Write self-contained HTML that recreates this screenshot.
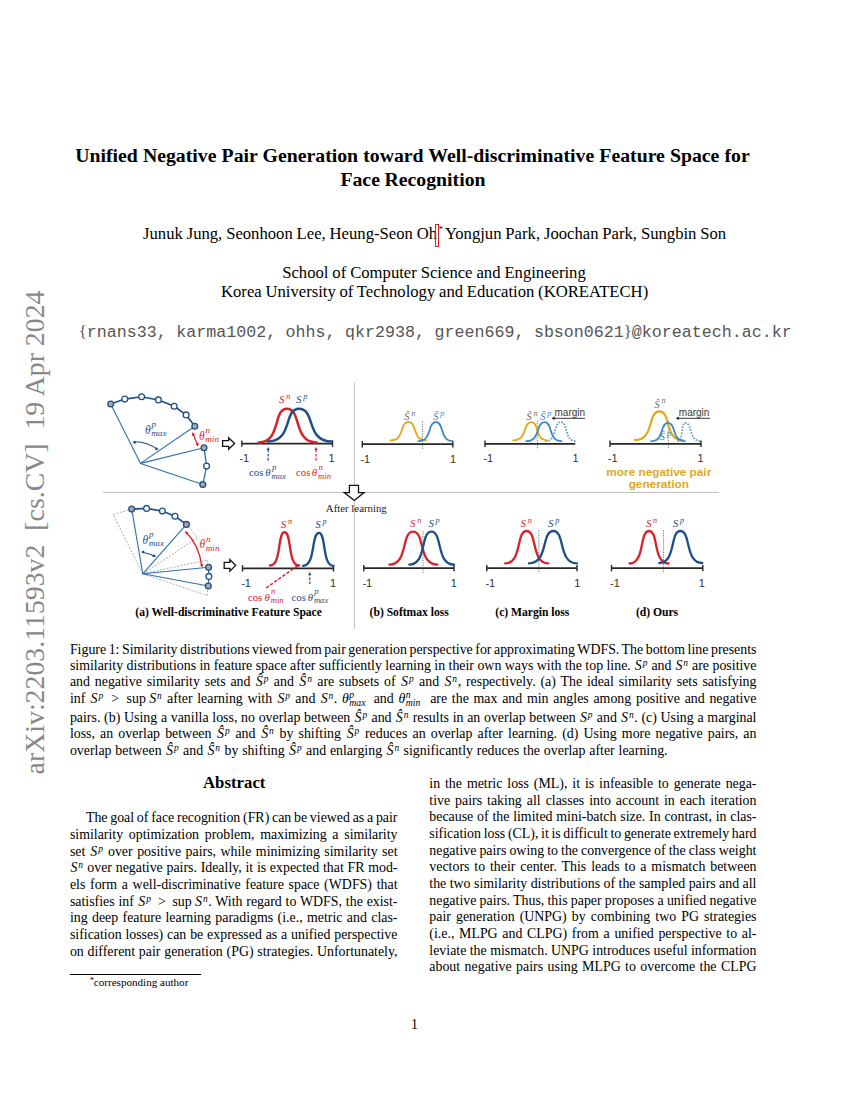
<!DOCTYPE html><html><head><meta charset="utf-8"><style>
html,body{margin:0;padding:0;background:#fff;}
body{width:850px;height:1100px;position:relative;overflow:hidden;font-family:"Liberation Serif", serif;color:#000;}
.l{position:absolute;white-space:nowrap;line-height:1;}
.sp{font-size:0.68em;font-style:italic;position:relative;top:-0.45em;margin-left:0.1em;margin-right:0.06em;}
.cs{font-style:italic;margin-left:0.04em;}
.ss{display:inline-block;position:relative;width:1.45em;height:0;vertical-align:baseline;}
.sp2{position:absolute;left:0.05em;top:-1.34em;font-size:0.7em;font-style:italic;line-height:1;}
.sb2{position:absolute;left:0.05em;top:-0.48em;font-size:0.7em;font-style:italic;line-height:1;}
.up{font-style:normal;}
</style></head><body>

<div class="l" style="left:0;top:0;font-size:27.8px;color:#888;transform-origin:0 0;transform:translate(44.1px,774.4px) rotate(-90deg);"><div style="position:absolute;left:0;top:-23.28px;">arXiv:2203.11593v2&nbsp; [cs.CV]&nbsp; 19 Apr 2024</div></div>
<div class="l" style="left:75.20px;top:146px;font-size:19.8px;word-spacing:0.119px;font-weight:bold;">Unified Negative Pair Generation toward Well-discriminative Feature Space for</div>
<div class="l" style="left:340.40px;top:170px;font-size:19.8px;word-spacing:-0.378px;font-weight:bold;">Face Recognition</div>
<div class="l" style="left:143.00px;top:226px;font-size:16.67px;word-spacing:-0.311px;">Junuk Jung, Seonhoon Lee, Heung-Seon Oh<span style="font-size:0.55em;position:relative;top:-0.75em;left:0.15em">*</span> Yongjun Park, Joochan Park, Sungbin Son</div>
<div style="position:absolute;left:435.2px;top:224px;width:2.2px;height:21px;border:1.5px solid #d42020;"></div>
<div class="l" style="left:282.20px;top:265px;font-size:16.67px;word-spacing:-0.246px;">School of Computer Science and Engineering</div>
<div class="l" style="left:221.00px;top:284px;font-size:16.67px;word-spacing:-0.407px;">Korea University of Technology and Education (KOREATECH)</div>
<div class="l" style="left:78.80px;top:324px;font-size:16.67px;font-family:'Liberation Mono', monospace;word-spacing:-0.541px;color:#555;"><span style="font-family:'Liberation Serif'">{</span>rnans33, karma1002, ohhs, qkr2938, green669, sbson0621<span style="font-family:'Liberation Serif'">}</span>@koreatech.ac.kr</div>
<div class="l" style="left:69.90px;top:643px;font-size:13.9px;word-spacing:-0.950px;">Figure 1: Similarity distributions viewed from pair generation perspective for approximating WDFS. The bottom line presents</div>
<div class="l" style="left:69.90px;top:659px;font-size:13.9px;word-spacing:-0.032px;">similarity distributions in feature space after sufficiently learning in their own ways with the top line. <i class="cs">S</i><span class="sp">p</span> and <i class="cs">S</i><span class="sp">n</span> are positive</div>
<div class="l" style="left:69.90px;top:675px;font-size:13.9px;word-spacing:1.360px;">and negative similarity sets and <i class="cs">Ŝ</i><span class="sp">p</span> and <i class="cs">Ŝ</i><span class="sp">n</span> are subsets of <i class="cs">S</i><span class="sp">p</span> and <i class="cs">S</i><span class="sp">n</span>, respectively. (a) The ideal similarity sets satisfying</div>
<div class="l" style="left:69.90px;top:692px;font-size:13.9px;word-spacing:1.241px;">inf <i class="cs">S</i><span class="sp">p</span> &thinsp;&gt;&thinsp; sup&thinsp;<i class="cs">S</i><span class="sp">n</span> after learning with <i class="cs">S</i><span class="sp">p</span> and <i class="cs">S</i><span class="sp">n</span>. <i>θ</i><span class="ss"><span class="sp2">p</span><span class="sb2">max</span></span> and <i>θ</i><span class="ss"><span class="sp2">n</span><span class="sb2">min</span></span> are the max and min angles among positive and negative</div>
<div class="l" style="left:69.90px;top:711px;font-size:13.9px;word-spacing:0.239px;">pairs. (b) Using a vanilla loss, no overlap between <i class="cs">Ŝ</i><span class="sp">p</span> and <i class="cs">Ŝ</i><span class="sp">n</span> results in an overlap between <i class="cs">S</i><span class="sp">p</span> and <i class="cs">S</i><span class="sp">n</span>. (c) Using a marginal</div>
<div class="l" style="left:69.90px;top:727px;font-size:13.9px;word-spacing:1.663px;">loss, an overlap between <i class="cs">Ŝ</i><span class="sp">p</span> and <i class="cs">Ŝ</i><span class="sp">n</span> by shifting <i class="cs">Ŝ</i><span class="sp">p</span> reduces an overlap after learning. (d) Using more negative pairs, an</div>
<div class="l" style="left:69.90px;top:744px;font-size:13.9px;word-spacing:0.358px;">overlap between <i class="cs">Ŝ</i><span class="sp">p</span> and <i class="cs">Ŝ</i><span class="sp">n</span> by shifting <i class="cs">Ŝ</i><span class="sp">p</span> and enlarging <i class="cs">Ŝ</i><span class="sp">n</span> significantly reduces the overlap after learning.</div>
<div class="l" style="left:203.00px;top:775px;font-size:16.8px;font-weight:bold;">Abstract</div>
<div class="l" style="left:85.90px;top:811px;font-size:13.9px;word-spacing:-0.741px;">The goal of face recognition (FR) can be viewed as a pair</div>
<div class="l" style="left:69.90px;top:828px;font-size:13.9px;word-spacing:2.248px;">similarity optimization problem, maximizing a similarity</div>
<div class="l" style="left:69.90px;top:845px;font-size:13.9px;word-spacing:0.993px;">set <i class="cs">S</i><span class="sp">p</span> over positive pairs, while minimizing similarity set</div>
<div class="l" style="left:69.90px;top:861px;font-size:13.9px;word-spacing:0.232px;"><i class="cs">S</i><span class="sp">n</span> over negative pairs. Ideally, it is expected that FR mod-</div>
<div class="l" style="left:69.90px;top:878px;font-size:13.9px;word-spacing:1.231px;">els form a well-discriminative feature space (WDFS) that</div>
<div class="l" style="left:69.90px;top:895px;font-size:13.9px;word-spacing:0.340px;">satisfies inf <i class="cs">S</i><span class="sp">p</span> &thinsp;&gt;&thinsp; sup&thinsp;<i class="cs">S</i><span class="sp">n</span>. With regard to WDFS, the exist-</div>
<div class="l" style="left:69.90px;top:911px;font-size:13.9px;word-spacing:0.886px;">ing deep feature learning paradigms (i.e., metric and clas-</div>
<div class="l" style="left:69.90px;top:928px;font-size:13.9px;word-spacing:0.352px;">sification losses) can be expressed as a unified perspective</div>
<div class="l" style="left:69.90px;top:945px;font-size:13.9px;word-spacing:0.277px;">on different pair generation (PG) strategies. Unfortunately,</div>
<div class="l" style="left:429.30px;top:777px;font-size:13.9px;word-spacing:1.437px;">in the metric loss (ML), it is infeasible to generate nega-</div>
<div class="l" style="left:429.30px;top:794px;font-size:13.9px;word-spacing:1.512px;">tive pairs taking all classes into account in each iteration</div>
<div class="l" style="left:429.30px;top:810px;font-size:13.9px;word-spacing:0.312px;">because of the limited mini-batch size. In contrast, in clas-</div>
<div class="l" style="left:429.30px;top:827px;font-size:13.9px;word-spacing:-0.820px;">sification loss (CL), it is difficult to generate extremely hard</div>
<div class="l" style="left:429.30px;top:844px;font-size:13.9px;word-spacing:-0.433px;">negative pairs owing to the convergence of the class weight</div>
<div class="l" style="left:429.30px;top:860px;font-size:13.9px;word-spacing:1.411px;">vectors to their center. This leads to a mismatch between</div>
<div class="l" style="left:429.30px;top:877px;font-size:13.9px;word-spacing:-0.039px;">the two similarity distributions of the sampled pairs and all</div>
<div class="l" style="left:429.30px;top:894px;font-size:13.9px;word-spacing:-0.246px;">negative pairs. Thus, this paper proposes a unified negative</div>
<div class="l" style="left:429.30px;top:910px;font-size:13.9px;word-spacing:1.607px;">pair generation (UNPG) by combining two PG strategies</div>
<div class="l" style="left:429.30px;top:927px;font-size:13.9px;word-spacing:1.208px;">(i.e., MLPG and CLPG) from a unified perspective to al-</div>
<div class="l" style="left:429.30px;top:944px;font-size:13.9px;word-spacing:-0.053px;">leviate the mismatch. UNPG introduces useful information</div>
<div class="l" style="left:429.30px;top:960px;font-size:13.9px;word-spacing:0.970px;">about negative pairs using MLPG to overcome the CLPG</div>
<div style="position:absolute;left:69.9px;top:974px;width:131.3px;height:1px;background:#000;"></div>
<div class="l" style="left:89.90px;top:977px;font-size:11.1px;"><span style="font-size:0.7em;position:relative;top:-0.45em">*</span>corresponding author</div>
<div class="l" style="left:411.00px;top:1018px;font-size:13.9px;">1</div>
<svg width="850" height="1100" style="position:absolute;left:0;top:0;" viewBox="0 0 850 1100">
<line x1="103" y1="492.4" x2="719" y2="492.4" stroke="#bdbdbd" stroke-width="1"/>
<line x1="354.4" y1="382.4" x2="354.4" y2="628.9" stroke="#bdbdbd" stroke-width="1"/>
<line x1="140.5" y1="463.4" x2="110.7" y2="404.0" stroke="#2e6fae" stroke-width="1.1"/>
<line x1="140.5" y1="463.4" x2="194.8" y2="426.2" stroke="#2e6fae" stroke-width="1.1"/>
<line x1="140.5" y1="463.4" x2="204" y2="447.8" stroke="#2e6fae" stroke-width="1.1"/>
<line x1="140.5" y1="463.4" x2="202.8" y2="484.5" stroke="#2e6fae" stroke-width="1.1"/>
<polyline points="110.7,404.0 124.8,399.1 141.6,396.8 158.4,399.9 174.2,406.3 186.1,414.9 194.8,426.2" fill="none" stroke="#1f4f88" stroke-width="1.6"/>
<polyline points="204,447.8 206.6,466.1 202.8,484.5" fill="none" stroke="#2e6fae" stroke-width="1.3"/>
<circle cx="110.7" cy="404.0" r="2.9" fill="#a9a9a9" stroke="#1f4f88" stroke-width="1.3"/>
<circle cx="124.8" cy="399.1" r="2.9" fill="#fff" stroke="#1f4f88" stroke-width="1.3"/>
<circle cx="141.6" cy="396.8" r="2.9" fill="#fff" stroke="#1f4f88" stroke-width="1.3"/>
<circle cx="158.4" cy="399.9" r="2.9" fill="#fff" stroke="#1f4f88" stroke-width="1.3"/>
<circle cx="174.2" cy="406.3" r="2.9" fill="#fff" stroke="#1f4f88" stroke-width="1.3"/>
<circle cx="186.1" cy="414.9" r="2.9" fill="#fff" stroke="#1f4f88" stroke-width="1.3"/>
<circle cx="194.8" cy="426.2" r="2.9" fill="#a9a9a9" stroke="#1f4f88" stroke-width="1.3"/>
<circle cx="204" cy="447.8" r="2.9" fill="#a9a9a9" stroke="#1f4f88" stroke-width="1.3"/>
<circle cx="206.6" cy="466.1" r="2.9" fill="#fff" stroke="#1f4f88" stroke-width="1.3"/>
<circle cx="202.8" cy="484.5" r="2.9" fill="#a9a9a9" stroke="#1f4f88" stroke-width="1.3"/>
<path d="M133.5,441.8 Q146,441 157.5,449.5" fill="none" stroke="#1f4f88" stroke-width="1.1"/>
<polygon points="132.50,442.20 135.84,440.73 135.53,444.23" fill="#1f4f88"/>
<polygon points="158.30,450.30 154.72,449.59 156.98,446.89" fill="#1f4f88"/>
<path d="M192.8,433.5 L197.8,445.3" stroke="#d6232b" stroke-width="1.2"/>
<polygon points="192.30,432.30 195.17,434.56 191.93,435.93" fill="#d6232b"/>
<polygon points="198.30,446.50 195.43,444.24 198.67,442.87" fill="#d6232b"/>
<line x1="142.8" y1="573.8" x2="113" y2="514.5" stroke="#9a9a9a" stroke-width="0.8" stroke-dasharray="2,1.5"/>
<line x1="113" y1="514.5" x2="131.7" y2="509.1" stroke="#9a9a9a" stroke-width="0.8" stroke-dasharray="2,1.5"/>
<line x1="186.4" y1="524.4" x2="197.5" y2="538" stroke="#9a9a9a" stroke-width="0.8" stroke-dasharray="2,1.5"/>
<line x1="142.8" y1="573.8" x2="197.5" y2="538" stroke="#9a9a9a" stroke-width="0.8" stroke-dasharray="2,1.5"/>
<line x1="142.8" y1="573.8" x2="207" y2="560" stroke="#9a9a9a" stroke-width="0.8" stroke-dasharray="2,1.5"/>
<line x1="207" y1="560" x2="208.6" y2="567.2" stroke="#9a9a9a" stroke-width="0.8" stroke-dasharray="2,1.5"/>
<line x1="142.8" y1="573.8" x2="207" y2="595.5" stroke="#9a9a9a" stroke-width="0.8" stroke-dasharray="2,1.5"/>
<line x1="207" y1="595.5" x2="208.3" y2="586" stroke="#9a9a9a" stroke-width="0.8" stroke-dasharray="2,1.5"/>
<line x1="142.8" y1="573.8" x2="131.7" y2="509.1" stroke="#2e6fae" stroke-width="1.1"/>
<line x1="142.8" y1="573.8" x2="186.4" y2="524.4" stroke="#2e6fae" stroke-width="1.1"/>
<line x1="142.8" y1="573.8" x2="208.6" y2="567.2" stroke="#2e6fae" stroke-width="1.1"/>
<line x1="142.8" y1="573.8" x2="208.3" y2="586" stroke="#2e6fae" stroke-width="1.1"/>
<polyline points="131.7,509.1 146.6,508.4 162.4,511.1 175,516.3 186.4,524.4" fill="none" stroke="#1f4f88" stroke-width="1.6"/>
<polyline points="208.6,567.2 208.9,576.4 208.3,586" fill="none" stroke="#2e6fae" stroke-width="1.3"/>
<circle cx="131.7" cy="509.1" r="2.9" fill="#a9a9a9" stroke="#1f4f88" stroke-width="1.3"/>
<circle cx="146.6" cy="508.4" r="2.9" fill="#fff" stroke="#1f4f88" stroke-width="1.3"/>
<circle cx="162.4" cy="511.1" r="2.9" fill="#fff" stroke="#1f4f88" stroke-width="1.3"/>
<circle cx="175" cy="516.3" r="2.9" fill="#fff" stroke="#1f4f88" stroke-width="1.3"/>
<circle cx="186.4" cy="524.4" r="2.9" fill="#a9a9a9" stroke="#1f4f88" stroke-width="1.3"/>
<circle cx="208.6" cy="567.2" r="2.9" fill="#a9a9a9" stroke="#1f4f88" stroke-width="1.3"/>
<circle cx="208.9" cy="576.4" r="2.9" fill="#fff" stroke="#1f4f88" stroke-width="1.3"/>
<circle cx="208.3" cy="586" r="2.9" fill="#a9a9a9" stroke="#1f4f88" stroke-width="1.3"/>
<path d="M142,552.2 Q149,553 155,556.3" fill="none" stroke="#1f4f88" stroke-width="1.1"/>
<polygon points="141.00,552.10 144.20,550.34 144.20,553.86" fill="#1f4f88"/>
<polygon points="156.00,557.00 152.35,556.92 154.11,553.88" fill="#1f4f88"/>
<path d="M185.8,532 Q199,545 201.8,566" fill="none" stroke="#d6232b" stroke-width="1.3"/>
<polygon points="185.00,531.20 188.51,532.22 186.02,534.71" fill="#d6232b"/>
<polygon points="202.00,567.50 199.97,564.47 203.47,564.16" fill="#d6232b"/>
<polygon points="222.60,440.54 228.60,440.54 228.60,437.80 234.60,443.50 228.60,449.20 228.60,446.46 222.60,446.46" fill="#fff" stroke="#111" stroke-width="1.3" stroke-linejoin="miter"/>
<polygon points="224.20,562.36 229.90,562.36 229.90,559.60 235.60,565.35 229.90,571.10 229.90,568.34 224.20,568.34" fill="#fff" stroke="#111" stroke-width="1.3" stroke-linejoin="miter"/>
<polygon points="349.4,485.3 358.5,485.3 358.5,492.6 364,492.6 354.3,500.4 344.2,492.6 349.4,492.6" fill="#fff" stroke="#111" stroke-width="1.3"/>
<line x1="241.8" y1="443.6" x2="332.5" y2="443.6" stroke="#262626" stroke-width="1.7"/>
<line x1="241.8" y1="440.40000000000003" x2="241.8" y2="446.8" stroke="#262626" stroke-width="1.4"/>
<line x1="332.5" y1="440.40000000000003" x2="332.5" y2="446.8" stroke="#262626" stroke-width="1.4"/>
<path d="M258.60,442.40 C281.24,442.40 272.75,408.70 286.90,408.70 C301.80,408.70 292.86,442.40 316.70,442.40" fill="none" stroke="#d6232b" stroke-width="2.5" stroke-linecap="round"/>
<path d="M267.80,441.60 C292.84,441.60 283.45,408.70 299.10,408.70 C315.55,408.70 305.68,441.60 332.00,441.60" fill="none" stroke="#1f4f88" stroke-width="2.5" stroke-linecap="round"/>
<line x1="268.2" y1="460.7" x2="268.2" y2="450" stroke="#1f4f88" stroke-width="1.2" stroke-dasharray="2.6,1.6"/>
<polygon points="268.20,447.00 269.85,450.00 266.55,450.00" fill="#1f4f88"/>
<line x1="316" y1="460.7" x2="316" y2="450" stroke="#d6232b" stroke-width="1.2" stroke-dasharray="2.6,1.6"/>
<polygon points="316.00,447.00 317.65,450.00 314.35,450.00" fill="#d6232b"/>
<line x1="362.3" y1="444.2" x2="452.8" y2="444.2" stroke="#262626" stroke-width="1.7"/>
<line x1="362.3" y1="441.0" x2="362.3" y2="447.4" stroke="#262626" stroke-width="1.4"/>
<line x1="452.8" y1="441.0" x2="452.8" y2="447.4" stroke="#262626" stroke-width="1.4"/>
<line x1="422.5" y1="421.3" x2="422.5" y2="448.8" stroke="#555" stroke-width="0.8" stroke-dasharray="1.2,1.2"/>
<path d="M390.60,440.40 C404.92,440.40 399.55,422.00 408.50,422.00 C417.25,422.00 412.00,440.40 426.00,440.40" fill="none" stroke="#e0a91c" stroke-width="1.8" stroke-linecap="round"/>
<path d="M418.40,441.20 C432.48,441.20 427.20,422.00 436.00,422.00 C444.40,422.00 439.36,441.20 452.80,441.20" fill="none" stroke="#3a8ac6" stroke-width="1.8" stroke-linecap="round"/>
<line x1="485" y1="443.8" x2="575.2" y2="443.8" stroke="#262626" stroke-width="1.7"/>
<line x1="485" y1="440.6" x2="485" y2="447.0" stroke="#262626" stroke-width="1.4"/>
<line x1="537.4" y1="420.6" x2="537.4" y2="449.6" stroke="#555" stroke-width="0.8" stroke-dasharray="1.2,1.2"/>
<path d="M545.40,441.20 C557.64,441.20 553.05,422.10 560.70,422.10 C568.35,422.10 563.76,441.20 576.00,441.20" fill="none" stroke="#5b95c4" stroke-width="1.7" stroke-linecap="butt" stroke-dasharray="1.6,1.4"/>
<path d="M513.20,440.30 C527.92,440.30 522.40,422.10 531.60,422.10 C539.30,422.10 534.68,440.30 547.00,440.30" fill="none" stroke="#e0a91c" stroke-width="1.8" stroke-linecap="round"/>
<path d="M526.20,441.20 C540.92,441.20 535.40,422.10 544.60,422.10 C553.00,422.10 547.96,441.20 561.40,441.20" fill="none" stroke="#3a8ac6" stroke-width="1.8" stroke-linecap="round"/>
<line x1="585" y1="418.3" x2="554" y2="418.3" stroke="#222" stroke-width="0.9"/>
<polygon points="551.50,418.30 554.70,416.54 554.70,420.06" fill="#222"/>
<line x1="610" y1="443.8" x2="701" y2="443.8" stroke="#262626" stroke-width="1.7"/>
<line x1="610" y1="440.6" x2="610" y2="447.0" stroke="#262626" stroke-width="1.4"/>
<line x1="701" y1="440.6" x2="701" y2="447.0" stroke="#262626" stroke-width="1.4"/>
<line x1="668.4" y1="420.6" x2="668.4" y2="448.9" stroke="#555" stroke-width="0.8" stroke-dasharray="1.2,1.2"/>
<path d="M677.20,441.20 C683.36,441.20 681.05,422.90 684.90,422.90 C692.95,422.90 688.12,441.20 701.00,441.20" fill="none" stroke="#5b95c4" stroke-width="1.7" stroke-linecap="butt" stroke-dasharray="1.6,1.4"/>
<path d="M634.90,440.00 C654.66,440.00 647.25,411.40 659.60,411.40 C671.10,411.40 664.20,440.00 682.60,440.00" fill="none" stroke="#e0a91c" stroke-width="2.2" stroke-linecap="round"/>
<path d="M651.20,441.20 C664.64,441.20 659.60,422.90 668.00,422.90 C676.45,422.90 671.38,441.20 684.90,441.20" fill="none" stroke="#3a8ac6" stroke-width="1.8" stroke-linecap="round"/>
<line x1="710" y1="418.3" x2="678.2" y2="418.3" stroke="#222" stroke-width="0.9"/>
<polygon points="675.70,418.30 678.90,416.54 678.90,420.06" fill="#222"/>
<line x1="242.5" y1="568.4" x2="333.5" y2="568.4" stroke="#262626" stroke-width="1.7"/>
<line x1="242.5" y1="565.1999999999999" x2="242.5" y2="571.6" stroke="#262626" stroke-width="1.4"/>
<line x1="333.5" y1="565.1999999999999" x2="333.5" y2="571.6" stroke="#262626" stroke-width="1.4"/>
<path d="M270.00,565.50 C281.68,565.50 277.30,532.10 284.60,532.10 C291.85,532.10 287.50,565.50 299.10,565.50" fill="none" stroke="#d6232b" stroke-width="2.3" stroke-linecap="round"/>
<path d="M303.00,565.80 C315.80,565.80 311.00,532.90 319.00,532.90 C326.25,532.90 321.90,565.80 333.50,565.80" fill="none" stroke="#1f4f88" stroke-width="2.3" stroke-linecap="round"/>
<line x1="266.2" y1="588" x2="296" y2="566.8" stroke="#d6232b" stroke-width="1.5" stroke-dasharray="3.2,1.8"/>
<polygon points="298.60,565.00 296.99,568.28 294.97,565.39" fill="#d6232b"/>
<line x1="309.8" y1="584.1" x2="309.8" y2="575" stroke="#1f4f88" stroke-width="1.2" stroke-dasharray="2.6,1.6"/>
<polygon points="309.80,571.90 311.45,574.90 308.15,574.90" fill="#1f4f88"/>
<line x1="363.8" y1="568.1" x2="454" y2="568.1" stroke="#262626" stroke-width="1.7"/>
<line x1="363.8" y1="564.9" x2="363.8" y2="571.3000000000001" stroke="#262626" stroke-width="1.4"/>
<line x1="454" y1="564.9" x2="454" y2="571.3000000000001" stroke="#262626" stroke-width="1.4"/>
<line x1="423" y1="531" x2="423" y2="573" stroke="#555" stroke-width="0.8" stroke-dasharray="1.2,1.2"/>
<path d="M389.40,564.60 C408.28,564.60 401.20,531.70 413.00,531.70 C425.25,531.70 417.90,564.60 437.50,564.60" fill="none" stroke="#d6232b" stroke-width="2.3" stroke-linecap="round"/>
<path d="M409.20,564.60 C426.96,564.60 420.30,531.70 431.40,531.70 C442.70,531.70 435.92,564.60 454.00,564.60" fill="none" stroke="#1f4f88" stroke-width="2.3" stroke-linecap="round"/>
<line x1="486.8" y1="568.1" x2="577" y2="568.1" stroke="#262626" stroke-width="1.7"/>
<line x1="486.8" y1="564.9" x2="486.8" y2="571.3000000000001" stroke="#262626" stroke-width="1.4"/>
<line x1="577" y1="564.9" x2="577" y2="571.3000000000001" stroke="#262626" stroke-width="1.4"/>
<line x1="538.8" y1="530.2" x2="538.8" y2="573" stroke="#555" stroke-width="0.8" stroke-dasharray="1.2,1.2"/>
<path d="M505.20,563.40 C522.32,563.40 515.90,531.00 526.60,531.00 C537.45,531.00 530.94,563.40 548.30,563.40" fill="none" stroke="#d6232b" stroke-width="2.3" stroke-linecap="round"/>
<path d="M528.90,563.40 C548.50,563.40 541.15,531.00 553.40,531.00 C565.20,531.00 558.12,563.40 577.00,563.40" fill="none" stroke="#1f4f88" stroke-width="2.3" stroke-linecap="round"/>
<line x1="611.5" y1="568.1" x2="702.8" y2="568.1" stroke="#262626" stroke-width="1.7"/>
<line x1="611.5" y1="564.9" x2="611.5" y2="571.3000000000001" stroke="#262626" stroke-width="1.4"/>
<line x1="702.8" y1="564.9" x2="702.8" y2="571.3000000000001" stroke="#262626" stroke-width="1.4"/>
<line x1="663.5" y1="530.2" x2="663.5" y2="572.2" stroke="#555" stroke-width="0.8" stroke-dasharray="1.2,1.2"/>
<path d="M629.50,563.50 C645.10,563.50 639.25,531.00 649.00,531.00 C658.75,531.00 652.90,563.50 668.50,563.50" fill="none" stroke="#d6232b" stroke-width="2.3" stroke-linecap="round"/>
<path d="M659.30,563.00 C676.10,563.00 669.80,531.00 680.30,531.00 C691.25,531.00 684.68,563.00 702.20,563.00" fill="none" stroke="#1f4f88" stroke-width="2.3" stroke-linecap="round"/>
<text x="239.4" y="462.2" font-family="'Liberation Sans', sans-serif" font-size="11" fill="#333" text-anchor="start">-1</text>
<text x="328.5" y="462.2" font-family="'Liberation Sans', sans-serif" font-size="11" fill="#333" text-anchor="start">1</text>
<text x="360.4" y="462.6" font-family="'Liberation Sans', sans-serif" font-size="11" fill="#333" text-anchor="start">-1</text>
<text x="450.1" y="462.6" font-family="'Liberation Sans', sans-serif" font-size="11" fill="#333" text-anchor="start">1</text>
<text x="483.4" y="461.9" font-family="'Liberation Sans', sans-serif" font-size="11" fill="#333" text-anchor="start">-1</text>
<text x="572.5" y="461.9" font-family="'Liberation Sans', sans-serif" font-size="11" fill="#333" text-anchor="start">1</text>
<text x="607.8" y="461.9" font-family="'Liberation Sans', sans-serif" font-size="11" fill="#333" text-anchor="start">-1</text>
<text x="697.5" y="461.9" font-family="'Liberation Sans', sans-serif" font-size="11" fill="#333" text-anchor="start">1</text>
<text x="241.20000000000002" y="587.2" font-family="'Liberation Sans', sans-serif" font-size="11" fill="#333" text-anchor="start">-1</text>
<text x="330.0" y="587.2" font-family="'Liberation Sans', sans-serif" font-size="11" fill="#333" text-anchor="start">1</text>
<text x="362.4" y="586.8" font-family="'Liberation Sans', sans-serif" font-size="11" fill="#333" text-anchor="start">-1</text>
<text x="450.8" y="586.8" font-family="'Liberation Sans', sans-serif" font-size="11" fill="#333" text-anchor="start">1</text>
<text x="485.4" y="586.8" font-family="'Liberation Sans', sans-serif" font-size="11" fill="#333" text-anchor="start">-1</text>
<text x="574.3" y="586.8" font-family="'Liberation Sans', sans-serif" font-size="11" fill="#333" text-anchor="start">1</text>
<text x="610.1" y="586.8" font-family="'Liberation Sans', sans-serif" font-size="11" fill="#333" text-anchor="start">-1</text>
<text x="698.8" y="586.8" font-family="'Liberation Sans', sans-serif" font-size="11" fill="#333" text-anchor="start">1</text>
<text x="145" y="433.5" font-family="'Liberation Serif', serif" font-size="11.5" fill="#1f4f88" font-style="italic" font-weight="normal" text-anchor="start">θ</text>
<text x="151.6" y="427.2" font-family="'Liberation Serif', serif" font-size="9.200000000000001" fill="#1f4f88" font-style="italic" font-weight="normal" text-anchor="start">p</text>
<text x="151.2" y="436.3" font-family="'Liberation Serif', serif" font-size="9.200000000000001" fill="#1f4f88" font-style="italic" font-weight="normal" text-anchor="start">max</text>
<text x="199" y="439.5" font-family="'Liberation Serif', serif" font-size="11.5" fill="#d6232b" font-style="italic" font-weight="normal" text-anchor="start">θ</text>
<text x="205.6" y="433.2" font-family="'Liberation Serif', serif" font-size="9.200000000000001" fill="#d6232b" font-style="italic" font-weight="normal" text-anchor="start">n</text>
<text x="205.2" y="442.3" font-family="'Liberation Serif', serif" font-size="9.200000000000001" fill="#d6232b" font-style="italic" font-weight="normal" text-anchor="start">min</text>
<text x="279" y="403" font-family="'Liberation Serif', serif" font-size="11" fill="#d6232b" font-style="italic" font-weight="normal" text-anchor="start">S</text>
<text x="286.2" y="398.8" font-family="'Liberation Serif', serif" font-size="8.25" fill="#d6232b" font-style="italic" font-weight="normal" text-anchor="start">n</text>
<text x="296" y="403" font-family="'Liberation Serif', serif" font-size="11" fill="#1f4f88" font-style="italic" font-weight="normal" text-anchor="start">S</text>
<text x="303.2" y="398.8" font-family="'Liberation Serif', serif" font-size="8.25" fill="#1f4f88" font-style="italic" font-weight="normal" text-anchor="start">p</text>
<text x="249" y="476.3" font-family="'Liberation Serif', serif" font-size="10.8" fill="#1f4f88" font-style="normal" font-weight="normal" text-anchor="start">cos</text>
<text x="265.3" y="476.3" font-family="'Liberation Serif', serif" font-size="10.8" fill="#1f4f88" font-style="italic" font-weight="normal" text-anchor="start">θ</text>
<text x="271.90000000000003" y="470.0" font-family="'Liberation Serif', serif" font-size="8.64" fill="#1f4f88" font-style="italic" font-weight="normal" text-anchor="start">p</text>
<text x="271.5" y="479.1" font-family="'Liberation Serif', serif" font-size="8.64" fill="#1f4f88" font-style="italic" font-weight="normal" text-anchor="start">max</text>
<text x="296" y="476.3" font-family="'Liberation Serif', serif" font-size="10.8" fill="#d6232b" font-style="normal" font-weight="normal" text-anchor="start">cos</text>
<text x="311.8" y="476.3" font-family="'Liberation Serif', serif" font-size="10.8" fill="#d6232b" font-style="italic" font-weight="normal" text-anchor="start">θ</text>
<text x="318.40000000000003" y="470.0" font-family="'Liberation Serif', serif" font-size="8.64" fill="#d6232b" font-style="italic" font-weight="normal" text-anchor="start">n</text>
<text x="318.0" y="479.1" font-family="'Liberation Serif', serif" font-size="8.64" fill="#d6232b" font-style="italic" font-weight="normal" text-anchor="start">min</text>
<text x="142.5" y="543.5" font-family="'Liberation Serif', serif" font-size="11.5" fill="#1f4f88" font-style="italic" font-weight="normal" text-anchor="start">θ</text>
<text x="149.1" y="537.2" font-family="'Liberation Serif', serif" font-size="9.200000000000001" fill="#1f4f88" font-style="italic" font-weight="normal" text-anchor="start">p</text>
<text x="148.7" y="546.3" font-family="'Liberation Serif', serif" font-size="9.200000000000001" fill="#1f4f88" font-style="italic" font-weight="normal" text-anchor="start">max</text>
<text x="199.5" y="548.3" font-family="'Liberation Serif', serif" font-size="11.5" fill="#d6232b" font-style="italic" font-weight="normal" text-anchor="start">θ</text>
<text x="206.1" y="542.0" font-family="'Liberation Serif', serif" font-size="9.200000000000001" fill="#d6232b" font-style="italic" font-weight="normal" text-anchor="start">n</text>
<text x="205.7" y="551.0999999999999" font-family="'Liberation Serif', serif" font-size="9.200000000000001" fill="#d6232b" font-style="italic" font-weight="normal" text-anchor="start">min</text>
<text x="280.8" y="528.3" font-family="'Liberation Serif', serif" font-size="11" fill="#d6232b" font-style="italic" font-weight="normal" text-anchor="start">S</text>
<text x="288.0" y="524.0999999999999" font-family="'Liberation Serif', serif" font-size="8.25" fill="#d6232b" font-style="italic" font-weight="normal" text-anchor="start">n</text>
<text x="315.2" y="528.3" font-family="'Liberation Serif', serif" font-size="11" fill="#1f4f88" font-style="italic" font-weight="normal" text-anchor="start">S</text>
<text x="322.4" y="524.0999999999999" font-family="'Liberation Serif', serif" font-size="8.25" fill="#1f4f88" font-style="italic" font-weight="normal" text-anchor="start">p</text>
<text x="247.9" y="600.5" font-family="'Liberation Serif', serif" font-size="10.8" fill="#d6232b" font-style="normal" font-weight="normal" text-anchor="start">cos</text>
<text x="264.5" y="600.5" font-family="'Liberation Serif', serif" font-size="10.8" fill="#d6232b" font-style="italic" font-weight="normal" text-anchor="start">θ</text>
<text x="271.1" y="594.2" font-family="'Liberation Serif', serif" font-size="8.64" fill="#d6232b" font-style="italic" font-weight="normal" text-anchor="start">n</text>
<text x="270.7" y="603.3" font-family="'Liberation Serif', serif" font-size="8.64" fill="#d6232b" font-style="italic" font-weight="normal" text-anchor="start">min</text>
<text x="291.5" y="600.5" font-family="'Liberation Serif', serif" font-size="10.8" fill="#1f4f88" font-style="normal" font-weight="normal" text-anchor="start">cos</text>
<text x="307.7" y="600.5" font-family="'Liberation Serif', serif" font-size="10.8" fill="#1f4f88" font-style="italic" font-weight="normal" text-anchor="start">θ</text>
<text x="314.3" y="594.2" font-family="'Liberation Serif', serif" font-size="8.64" fill="#1f4f88" font-style="italic" font-weight="normal" text-anchor="start">p</text>
<text x="313.9" y="603.3" font-family="'Liberation Serif', serif" font-size="8.64" fill="#1f4f88" font-style="italic" font-weight="normal" text-anchor="start">max</text>
<text x="404" y="419.8" font-family="'Liberation Serif', serif" font-size="11" fill="#707070" font-style="italic" font-weight="normal" text-anchor="start">Ŝ</text>
<text x="411.2" y="415.6" font-family="'Liberation Serif', serif" font-size="8.25" fill="#707070" font-style="italic" font-weight="normal" text-anchor="start">n</text>
<text x="433" y="419.8" font-family="'Liberation Serif', serif" font-size="11" fill="#3a8ac6" font-style="italic" font-weight="normal" text-anchor="start">Ŝ</text>
<text x="440.2" y="415.6" font-family="'Liberation Serif', serif" font-size="8.25" fill="#3a8ac6" font-style="italic" font-weight="normal" text-anchor="start">p</text>
<text x="526.2" y="419.8" font-family="'Liberation Serif', serif" font-size="11" fill="#707070" font-style="italic" font-weight="normal" text-anchor="start">Ŝ</text>
<text x="533.4000000000001" y="415.6" font-family="'Liberation Serif', serif" font-size="8.25" fill="#707070" font-style="italic" font-weight="normal" text-anchor="start">n</text>
<text x="540" y="419.8" font-family="'Liberation Serif', serif" font-size="11" fill="#3a8ac6" font-style="italic" font-weight="normal" text-anchor="start">Ŝ</text>
<text x="547.2" y="415.6" font-family="'Liberation Serif', serif" font-size="8.25" fill="#3a8ac6" font-style="italic" font-weight="normal" text-anchor="start">p</text>
<text x="654.3" y="407.6" font-family="'Liberation Serif', serif" font-size="11" fill="#707070" font-style="italic" font-weight="normal" text-anchor="start">Ŝ</text>
<text x="661.5" y="403.40000000000003" font-family="'Liberation Serif', serif" font-size="8.25" fill="#707070" font-style="italic" font-weight="normal" text-anchor="start">n</text>
<text x="659.6" y="439.7" font-family="'Liberation Serif', serif" font-size="11" fill="#5a7fa0" font-style="italic" font-weight="normal" text-anchor="start">Ŝ</text>
<text x="666.8000000000001" y="435.5" font-family="'Liberation Serif', serif" font-size="8.25" fill="#5a7fa0" font-style="italic" font-weight="normal" text-anchor="start">p</text>
<text x="554.5" y="415.6" font-family="'Liberation Sans', sans-serif" font-size="10" fill="#3a3a3a" font-style="normal" font-weight="normal" text-anchor="start">margin</text>
<text x="678.8" y="415.6" font-family="'Liberation Sans', sans-serif" font-size="10" fill="#3a3a3a" font-style="normal" font-weight="normal" text-anchor="start">margin</text>
<text x="658.8" y="475.6" font-family="'Liberation Sans', sans-serif" font-size="11.8" fill="#e0a91c" font-style="normal" font-weight="bold" text-anchor="middle">more negative pair</text>
<text x="658.8" y="488.3" font-family="'Liberation Sans', sans-serif" font-size="11.8" fill="#e0a91c" font-style="normal" font-weight="bold" text-anchor="middle">generation</text>
<text x="410" y="527.1" font-family="'Liberation Serif', serif" font-size="11" fill="#d6232b" font-style="italic" font-weight="normal" text-anchor="start">S</text>
<text x="417.2" y="522.9" font-family="'Liberation Serif', serif" font-size="8.25" fill="#d6232b" font-style="italic" font-weight="normal" text-anchor="start">n</text>
<text x="428.4" y="527.1" font-family="'Liberation Serif', serif" font-size="11" fill="#1f4f88" font-style="italic" font-weight="normal" text-anchor="start">S</text>
<text x="435.59999999999997" y="522.9" font-family="'Liberation Serif', serif" font-size="8.25" fill="#1f4f88" font-style="italic" font-weight="normal" text-anchor="start">p</text>
<text x="520.5" y="527.1" font-family="'Liberation Serif', serif" font-size="11" fill="#d6232b" font-style="italic" font-weight="normal" text-anchor="start">S</text>
<text x="527.7" y="522.9" font-family="'Liberation Serif', serif" font-size="8.25" fill="#d6232b" font-style="italic" font-weight="normal" text-anchor="start">n</text>
<text x="548" y="527.1" font-family="'Liberation Serif', serif" font-size="11" fill="#1f4f88" font-style="italic" font-weight="normal" text-anchor="start">S</text>
<text x="555.2" y="522.9" font-family="'Liberation Serif', serif" font-size="8.25" fill="#1f4f88" font-style="italic" font-weight="normal" text-anchor="start">p</text>
<text x="645.9" y="527.1" font-family="'Liberation Serif', serif" font-size="11" fill="#d6232b" font-style="italic" font-weight="normal" text-anchor="start">S</text>
<text x="653.1" y="522.9" font-family="'Liberation Serif', serif" font-size="8.25" fill="#d6232b" font-style="italic" font-weight="normal" text-anchor="start">n</text>
<text x="672.7" y="527.1" font-family="'Liberation Serif', serif" font-size="11" fill="#1f4f88" font-style="italic" font-weight="normal" text-anchor="start">S</text>
<text x="679.9000000000001" y="522.9" font-family="'Liberation Serif', serif" font-size="8.25" fill="#1f4f88" font-style="italic" font-weight="normal" text-anchor="start">p</text>
<text x="356.3" y="512.4" font-family="'Liberation Serif', serif" font-size="10.8" fill="#222" font-style="normal" font-weight="normal" text-anchor="middle">After learning</text>
<text x="228.6" y="616.2" font-family="'Liberation Serif', serif" font-size="11.6" fill="#000" font-style="normal" font-weight="bold" text-anchor="middle">(a) Well-discriminative Feature Space</text>
<text x="409.2" y="616.2" font-family="'Liberation Serif', serif" font-size="11.6" fill="#000" font-style="normal" font-weight="bold" text-anchor="middle">(b) Softmax loss</text>
<text x="532.3" y="616.2" font-family="'Liberation Serif', serif" font-size="11.6" fill="#000" font-style="normal" font-weight="bold" text-anchor="middle">(c) Margin loss</text>
<text x="657" y="616.2" font-family="'Liberation Serif', serif" font-size="11.6" fill="#000" font-style="normal" font-weight="bold" text-anchor="middle">(d) Ours</text>
</svg>
</body></html>
